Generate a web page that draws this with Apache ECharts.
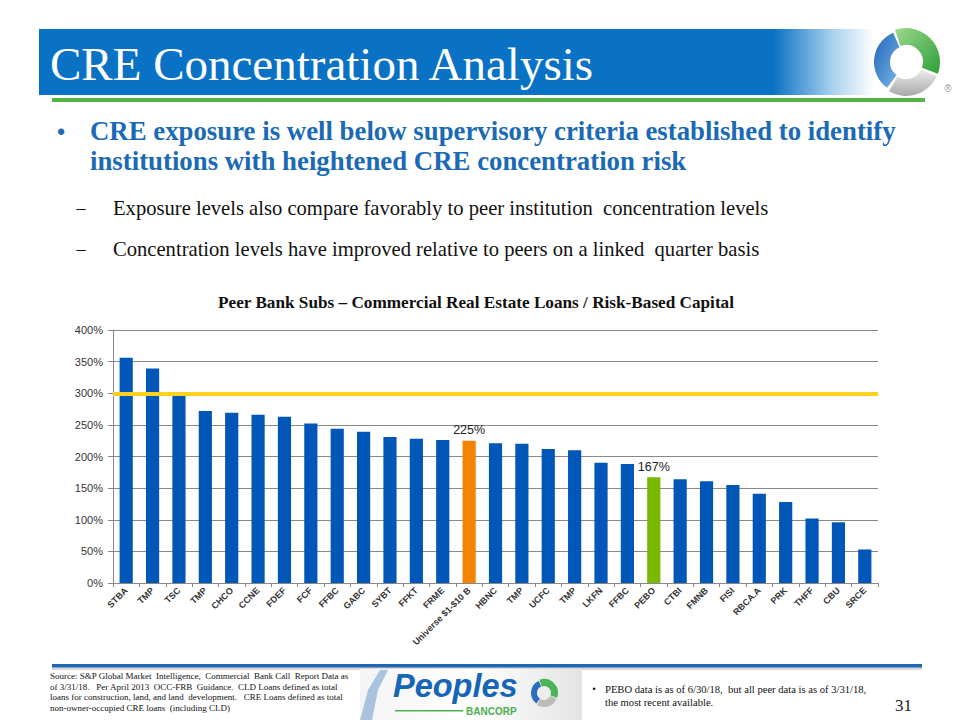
<!DOCTYPE html>
<html>
<head>
<meta charset="utf-8">
<script src="https://cdn.jsdelivr.net/npm/echarts@6/dist/echarts.min.js"></script>
<style>
html,body{margin:0;padding:0;background:#fff;}
#chart{width:960px;height:720px;}
</style>
</head>
<body>
<div id="chart"></div>
<script>
// ---- data ----
const categories = ["STBA","TMP","TSC","TMP","CHCO","CCNE","FDEF","FCF","FFBC","GABC","SYBT","FFKT","FRME","Universe $1-$10 B","HBNC","TMP","UCFC","TMP","LKFN","FFBC","PEBO","CTBI","FMNB","FISI","RBCA.A","PRK","THFF","CBU","SRCE"];
const values = [356,339,297,272,269,266,263,252,244,239,231,228,226,225,221,220,212,210,190,188,167,164,161,155,141,128,102,96,53];
const yTicks = [0,50,100,150,200,250,300,350,400];
const thresholdValue = 300;
const highlightLabels = ["Universe $1-$10 B","PEBO"];

const chartTitle = "Peer Bank Subs \u2013 Commercial Real Estate Loans / Risk-Based Capital";
const slideTitle = "CRE Concentration Analysis";
const bulletLines = ["CRE exposure is well below supervisory criteria established to identify","institutions with heightened CRE concentration risk"];
const subBullets = ["Exposure levels also compare favorably to peer institution  concentration levels","Concentration levels have improved relative to peers on a linked  quarter basis"];
const sourceLines = ["Source: S&P Global Market  Intelligence,  Commercial  Bank Call  Report Data as","of 3/31/18.   Per April 2013  OCC-FRB  Guidance.  CLD Loans defined as total","loans for construction, land, and land  development.   CRE Loans defined as total","non-owner-occupied CRE loans  (including CLD)"];
const noteLines = ["PEBO data is as of 6/30/18,  but all peer data is as of 3/31/18,","the most recent available."];
const pageNumber = "31";

// ---- styles ----
const BLUE = "#0057B8", ORANGE = "#F48400", GREEN = "#7AB800";
const colorFor = (cat) => cat === "PEBO" ? GREEN : (cat.indexOf("Universe") === 0 ? ORANGE : BLUE);
const SERIF = "Liberation Serif";
const SANS = "Liberation Sans";

const barData = categories.map((c, i) => {
  const item = { value: values[i], itemStyle: { color: colorFor(c) } };
  if (highlightLabels.indexOf(c) >= 0) {
    item.label = { show: true, position: 'top', formatter: '{c}%', fontSize: 12.5, color: '#222', fontFamily: SANS, distance: 4 };
  }
  return item;
});

function txt(x, y, text, size, opts) {
  opts = opts || {};
  const style = {
    text: text, fontSize: size, fontFamily: opts.family || SERIF,
    fontWeight: opts.weight || 'normal', fontStyle: opts.italic ? 'italic' : 'normal',
    fill: opts.fill || '#111', align: opts.align || 'left', verticalAlign: 'middle'
  };
  if (opts.shadow) { style.shadowColor = opts.shadow; style.shadowBlur = 2; style.shadowOffsetX = 1; style.shadowOffsetY = 1; }
  const el = { type: 'text', x: x, y: y, style: style, z: opts.z || 5 };
  if (opts.scaleX) el.scaleX = opts.scaleX;
  return el;
}

const graphics = [
  // header band
  { type: 'rect', shape: { x: 39, y: 29, width: 835, height: 66 }, style: { fill: new echarts.graphic.LinearGradient(0,0,1,0,[{offset:0,color:'#0A72C4'},{offset:0.88,color:'#0A72C4'},{offset:0.95,color:'#A9D0EE'},{offset:1,color:'#ffffff'}]) }, z: 1 },
  txt(50, 64, slideTitle, 47, { fill: '#ffffff', shadow: 'rgba(0,0,0,0.5)' }),
  // green rule
  { type: 'rect', shape: { x: 52, y: 98, width: 873, height: 4 }, style: { fill: '#56B447' }, z: 1 },
  // logo swirl
  { type: 'sector', shape: { cx: 906, cy: 62, r0: 17, r: 34, startAngle: -1.9, endAngle: 0.35 }, style: { fill: new echarts.graphic.LinearGradient(0,0,1,1,[{offset:0,color:'#9BD88A'},{offset:1,color:'#2E9E3A'}]) }, z: 3 },
  { type: 'sector', shape: { cx: 906, cy: 62, r0: 16, r: 32, startAngle: 2.2, endAngle: 4.3 }, style: { fill: new echarts.graphic.LinearGradient(0,0,1,1,[{offset:0,color:'#1E63B8'},{offset:1,color:'#7DB9E8'}]) }, z: 3 },
  { type: 'sector', shape: { cx: 906, cy: 62, r0: 17, r: 34, startAngle: 0.45, endAngle: 2.1 }, style: { fill: new echarts.graphic.LinearGradient(0,0,0,1,[{offset:0,color:'#EEEEEE'},{offset:1,color:'#A8A8A8'}]) }, z: 3 },
  txt(948, 88, '\u00AE', 10, { family: SANS, fill: '#999', align: 'center' }),
  // main bullet
  txt(61, 131, '\u2022', 22, { family: SANS, weight: 'bold', fill: '#1A6AB5', align: 'center' }),
  txt(90, 131, bulletLines[0], 26.8, { weight: 'bold', fill: '#1A6AB5', shadow: 'rgba(0,0,0,0.25)' }),
  txt(90, 161, bulletLines[1], 26.8, { weight: 'bold', fill: '#1A6AB5', shadow: 'rgba(0,0,0,0.25)' }),
  // sub bullets
  txt(81, 208, '\u2013', 18, { align: 'center' }),
  txt(113, 208, subBullets[0], 20.6),
  txt(81, 249, '\u2013', 18, { align: 'center' }),
  txt(113, 249, subBullets[1], 20.6),
  // footer rule
  { type: 'rect', shape: { x: 52, y: 667, width: 870, height: 3 }, style: { fill: 'rgba(0,0,0,0.15)' } },
  { type: 'rect', shape: { x: 52, y: 664, width: 870, height: 3.5 }, style: { fill: '#2067B2' } },
  // source text
  txt(50, 676, sourceLines[0], 9),
  txt(50, 686.5, sourceLines[1], 9),
  txt(50, 697, sourceLines[2], 9),
  txt(50, 707.5, sourceLines[3], 9),
  // peoples logo box
  { type: 'rect', shape: { x: 360, y: 669, width: 222, height: 51 }, style: { fill: new echarts.graphic.LinearGradient(0,0,1,0,[{offset:0,color:'#F4F4F4'},{offset:0.5,color:'#FFFFFF'},{offset:1,color:'#E4E4E4'}]) } },
  { type: 'polygon', shape: { points: [[372,720],[360,720],[368,690],[380,670],[388,670],[378,690]] }, style: { fill: 'rgba(30,100,180,0.35)' } },
  txt(393, 686, 'Peoples', 32.5, { family: SANS, weight: 'bold', italic: true, fill: '#1565B8' }),
  { type: 'rect', shape: { x: 395, y: 710, width: 68, height: 1.5 }, style: { fill: '#4CAF50' } },
  txt(466, 711, 'BANCORP', 10, { family: SANS, weight: 'bold', fill: '#4CAF50' }),
  { type: 'sector', shape: { cx: 544, cy: 693, r0: 7, r: 14, startAngle: -1.9, endAngle: 0.35 }, style: { fill: '#4DB35A' } },
  { type: 'sector', shape: { cx: 544, cy: 693, r0: 7, r: 13, startAngle: 2.2, endAngle: 4.3 }, style: { fill: '#2A6FBF' } },
  { type: 'sector', shape: { cx: 544, cy: 693, r0: 7, r: 14, startAngle: 0.45, endAngle: 2.1 }, style: { fill: '#BBBBBB' } },
  // note
  txt(594, 689, '\u2022', 9, { family: SANS, align: 'center' }),
  txt(605, 689, noteLines[0], 10.6),
  txt(605, 702, noteLines[1], 10.6),
  txt(912, 705, pageNumber, 17, { fill: '#222', align: 'right' }),
  // chart title
  txt(476, 302, chartTitle, 17.2, { weight: 'bold', align: 'center' })
];

const chart = echarts.init(document.getElementById('chart'), null, { renderer: 'svg' });
chart.setOption({
  animation: false,
  backgroundColor: '#ffffff',
  graphic: { elements: graphics },
  grid: { left: 113, right: 82, top: 330, bottom: 137, containLabel: false },
  xAxis: {
    type: 'category',
    data: categories,
    axisLine: { lineStyle: { color: '#888', width: 1 } },
    axisTick: { show: true, length: 4, lineStyle: { color: '#888' } },
    axisLabel: { interval: 0, rotate: 45, fontSize: 9, fontWeight: 'bold', color: '#333', fontFamily: SANS, margin: 6 }
  },
  yAxis: {
    type: 'value',
    min: yTicks[0], max: yTicks[yTicks.length - 1], interval: 50,
    axisLine: { show: true, lineStyle: { color: '#888', width: 1 } },
    axisTick: { show: true, length: 5, lineStyle: { color: '#888' } },
    axisLabel: { formatter: '{value}%', fontSize: 11, color: '#333', fontFamily: SANS, margin: 10 },
    splitLine: { lineStyle: { color: '#888', width: 1 } }
  },
  series: [{
    type: 'bar',
    data: barData,
    barWidth: '50%',
    markLine: {
      silent: true,
      symbol: ['none', 'none'],
      label: { show: false },
      lineStyle: { color: '#FCD21E', width: 4, type: 'solid' },
      data: [{ yAxis: thresholdValue }]
    }
  }]
});
</script>
</body>
</html>
